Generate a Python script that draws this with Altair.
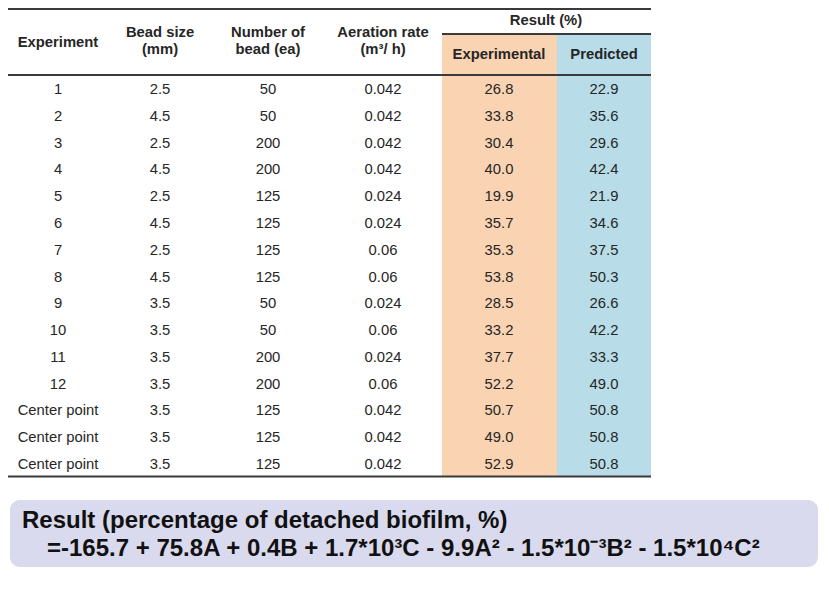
import altair as alt
import pandas as pd

# ---- data ----
experiment = ["1", "2", "3", "4", "5", "6", "7", "8", "9", "10", "11", "12",
              "Center point", "Center point", "Center point"]
bead_size = [2.5, 4.5, 2.5, 4.5, 2.5, 4.5, 2.5, 4.5, 3.5, 3.5, 3.5, 3.5, 3.5, 3.5, 3.5]
bead_number = [50, 50, 200, 200, 125, 125, 125, 125, 50, 50, 200, 200, 125, 125, 125]
aeration = [0.042, 0.042, 0.042, 0.042, 0.024, 0.024, 0.06, 0.06, 0.024, 0.06,
            0.024, 0.06, 0.042, 0.042, 0.042]
experimental = [26.8, 33.8, 30.4, 40.0, 19.9, 35.7, 35.3, 53.8, 28.5, 33.2,
                37.7, 52.2, 50.7, 49.0, 52.9]
predicted = [22.9, 35.6, 29.6, 42.4, 21.9, 34.6, 37.5, 50.3, 26.6, 42.2,
             33.3, 49.0, 50.8, 50.8, 50.8]

columns = ["exp", "bead", "num", "aer", "expt", "pred"]
header_top = ["", "Bead size", "Number of", "Aeration rate", "", ""]
header_bottom = ["", "(mm)", "bead (ea)", "(m³/ h)", "", ""]
header_single = ["Experiment", "", "", "", "Experimental", "Predicted"]
group_header = "Result (%)"
formula_line1 = "Result (percentage of detached biofilm, %)"
formula_line2 = "=-165.7 + 75.8A + 0.4B + 1.7*10³C - 9.9A² - 1.5*10⁻³B² - 1.5*10⁴C²"

# ---- build table ----
rows = []
for i in range(len(experiment)):
    vals = [experiment[i], str(bead_size[i]), str(bead_number[i]), str(aeration[i]),
            f"{experimental[i]:.1f}", f"{predicted[i]:.1f}"]
    for ci, v in enumerate(vals):
        rows.append({"row": i, "ci": ci, "label": v})
body = pd.DataFrame(rows)

hdr = pd.DataFrame({"ci": list(range(len(columns))), "top": header_top,
                    "bottom": header_bottom, "single": header_single})

W, H = 813, 573
FONT = "Liberation Sans"
TXT = "#262626"
FS = 14.8
# piecewise linear scale: column index -> column centre
col_scale = alt.Scale(domain=[0, 1, 2, 3, 4, 5], range=[50, 152, 260, 375, 491, 596])
row_scale = alt.Scale(type="point", domain=list(range(len(experiment))),
                      range=[82, 457], padding=0)
X = alt.X("ci:Q", scale=col_scale, axis=None)

one = pd.DataFrame({"k": [0]})
bg_exp = alt.Chart(one).mark_rect(color="#F9D3B2").encode(
    x=alt.value(434), x2=alt.value(549), y=alt.value(26), y2=alt.value(468))
bg_pred = alt.Chart(one).mark_rect(color="#B8DDE8").encode(
    x=alt.value(549), x2=alt.value(643), y=alt.value(26), y2=alt.value(468))

def rule(x1, x2, y, w=2):
    return alt.Chart(one).mark_rule(color="#3a3a3a", strokeWidth=w).encode(
        x=alt.value(x1), x2=alt.value(x2), y=alt.value(y))

rules = [rule(0, 643, 1, 2), rule(0, 643, 67, 2), rule(434, 643, 26, 2),
         rule(0, 643, 468.5, 2)]

body_text = alt.Chart(body).mark_text(font=FONT, fontSize=FS, color=TXT,
                                      baseline="middle").encode(
    x=X, y=alt.Y("row:O", scale=row_scale, axis=None), text="label:N")

def hdr_layer(field, y):
    cond = f"datum.{field} != ''"
    return alt.Chart(hdr).transform_filter(cond).mark_text(
        font=FONT, fontSize=FS, fontWeight="bold", color=TXT, baseline="middle"
    ).encode(x=X, y=alt.value(y), text=f"{field}:N")

h_top = hdr_layer("top", 25)
h_bot = hdr_layer("bottom", 42)
h_single_exp = alt.Chart(hdr).transform_filter("datum.ci == 0").mark_text(
    font=FONT, fontSize=FS, fontWeight="bold", color=TXT, baseline="middle"
).encode(x=X, y=alt.value(34.5), text="single:N")
h_single_res = alt.Chart(hdr).transform_filter("datum.ci >= 4").mark_text(
    font=FONT, fontSize=FS, fontWeight="bold", color=TXT, baseline="middle"
).encode(x=X, y=alt.value(46.5), text="single:N")
h_group = alt.Chart(pd.DataFrame({"t": [group_header]})).mark_text(
    font=FONT, fontSize=FS, fontWeight="bold", color=TXT, baseline="middle"
).encode(x=alt.value(538), y=alt.value(12.5), text="t:N")

box = alt.Chart(one).mark_rect(color="#DADAEE", cornerRadius=10).encode(
    x=alt.value(2), x2=alt.value(810), y=alt.value(492), y2=alt.value(559))
f1 = alt.Chart(pd.DataFrame({"t": [formula_line1]})).mark_text(
    font=FONT, fontSize=24, fontWeight="bold", color="#111111",
    align="left", baseline="middle").encode(x=alt.value(14), y=alt.value(513), text="t:N")
f2 = alt.Chart(pd.DataFrame({"t": [formula_line2]})).mark_text(
    font=FONT, fontSize=24, fontWeight="bold", color="#111111",
    align="left", baseline="middle").encode(x=alt.value(39), y=alt.value(541), text="t:N")

chart = alt.layer(bg_exp, bg_pred, *rules, body_text, h_top, h_bot, h_single_exp,
                  h_single_res, h_group, box, f1, f2).properties(
    width=W, height=H, padding=0, background="white",
    autosize=alt.AutoSizeParams(type="none")
).configure_view(stroke=None)

chart.save("out.html", embed_options={"renderer": "svg", "actions": False})
